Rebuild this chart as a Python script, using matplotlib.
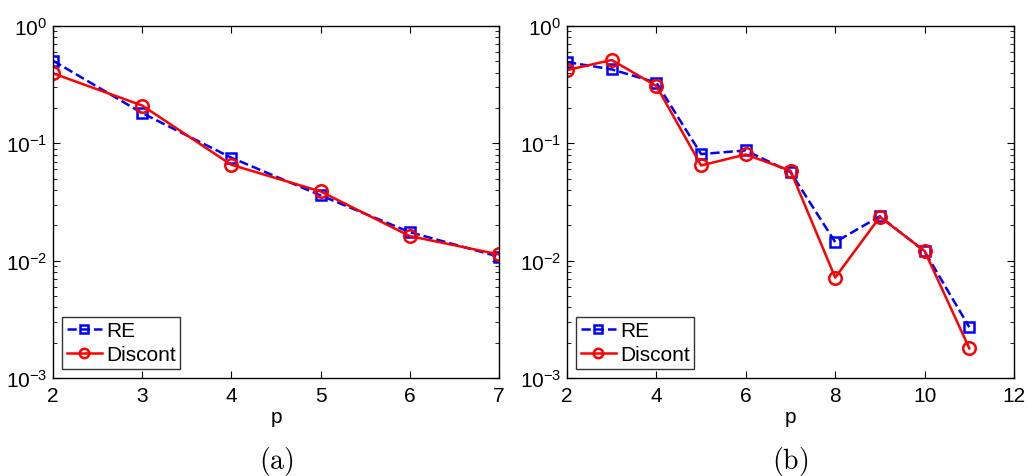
import matplotlib
matplotlib.use("Agg")
import matplotlib.pyplot as plt
import matplotlib.ticker as mticker

plt.rcParams['font.family'] = ['Liberation Sans', 'DejaVu Sans']
plt.rcParams['mathtext.fontset'] = 'custom'
plt.rcParams['mathtext.rm'] = 'Liberation Sans'
plt.rcParams['mathtext.it'] = 'Liberation Sans'

p_a = [2, 3, 4, 5, 6, 7]
re_a = [0.506, 0.181, 0.0754, 0.036, 0.0175, 0.0108]
disc_a = [0.395, 0.21, 0.0656, 0.0389, 0.0162, 0.0113]

p_b = [2, 3, 4, 5, 6, 7, 8, 9, 10, 11]
re_b = [0.493, 0.427, 0.329, 0.081, 0.087, 0.0569, 0.0144, 0.0239, 0.0120, 0.00271]
disc_b = [0.421, 0.513, 0.308, 0.0648, 0.0804, 0.0584, 0.00718, 0.0236, 0.0121, 0.00179]

captions = ['(a)', '(b)']
xticks_a = [2, 3, 4, 5, 6, 7]
xticks_b = [2, 4, 6, 8, 10, 12]

FS = 15

fig = plt.figure(figsize=(10.28, 4.77), dpi=100)
W, H = 1028, 477
ax1 = fig.add_axes([53 / W, 1 - 379 / H, (499 - 53) / W, (379 - 27) / H])
ax2 = fig.add_axes([567 / W, 1 - 379 / H, (1014 - 567) / W, (379 - 27) / H])

def style(ax, p, re, disc, xlim, xticks, cap):
    ax.semilogy(p, re, '--s', color='#0000ff', lw=1.8, ms=7, mfc='none', mew=1.8, label='RE')
    ax.semilogy(p, disc, '-o', color='#ff0000', lw=1.8, ms=9, mfc='none', mew=1.8, label='Discont')
    ax.set_xlim(*xlim)
    ax.set_ylim(1e-3, 1)
    ax.set_xticks(xticks)
    ax.set_yticks([1e-3, 1e-2, 1e-1, 1])
    ax.yaxis.set_minor_locator(mticker.LogLocator(base=10, subs=range(2, 10)))
    ax.yaxis.set_minor_formatter(mticker.NullFormatter())
    ax.tick_params(which='both', direction='in', top=True, right=True, labelsize=FS)
    ax.tick_params(which='major', length=5, width=0.8)
    ax.tick_params(which='minor', length=3, width=0.6)
    ax.tick_params(axis='x', pad=6)
    ax.tick_params(axis='y', pad=4)
    for s in ax.spines.values():
        s.set_linewidth(1.0)
    ax.set_xlabel('p', fontsize=FS, labelpad=1)
    leg = ax.legend(loc='lower left', fontsize=FS, frameon=True, fancybox=False,
                    edgecolor='black', handlelength=1.7, handletextpad=0.2,
                    borderpad=0.2, labelspacing=0.25, borderaxespad=0.45,
                    markerscale=0.75)
    leg.get_frame().set_linewidth(1.0)
    ax.text(0.5, -0.235, r'$\mathrm{' + cap + '}$', transform=ax.transAxes,
            ha='center', va='center', fontsize=20, math_fontfamily='cm')

style(ax1, p_a, re_a, disc_a, (2, 7), xticks_a, captions[0])
style(ax2, p_b, re_b, disc_b, (2, 12), xticks_b, captions[1])

fig.savefig('out.png', dpi=100)
